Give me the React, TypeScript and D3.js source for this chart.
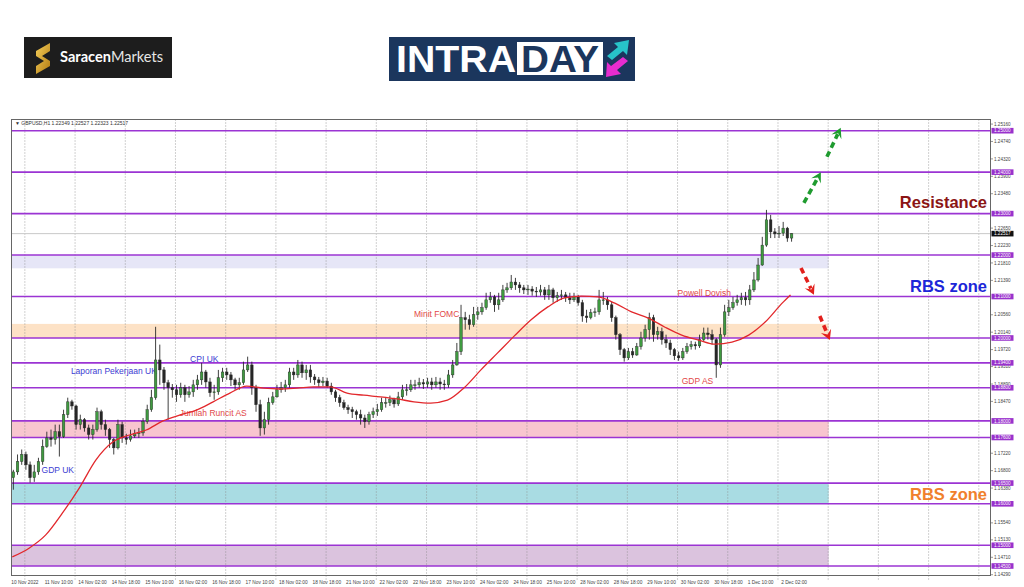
import * as d3 from "d3";

const timeLabels = [
  "10 Nov 2022", "11 Nov 10:00", "14 Nov 02:00", "14 Nov 18:00", "15 Nov 10:00",
  "16 Nov 02:00", "16 Nov 18:00", "17 Nov 10:00", "18 Nov 02:00", "18 Nov 18:00",
  "21 Nov 10:00", "22 Nov 02:00", "22 Nov 18:00", "23 Nov 10:00", "24 Nov 02:00",
  "24 Nov 18:00", "25 Nov 10:00", "28 Nov 02:00", "28 Nov 18:00", "29 Nov 10:00",
  "30 Nov 02:00", "30 Nov 18:00", "1 Dec 10:00", "2 Dec 02:00",
];

const priceTicks = [
  "1.25160", "1.24740", "1.24320", "1.23900", "1.23480", "1.23060", "1.22650",
  "1.22230", "1.21810", "1.21390", "1.20970", "1.20560", "1.20140", "1.19720",
  "1.19310", "1.18890", "1.18470", "1.18050", "1.17640", "1.17220", "1.16800",
  "1.16380", "1.15960", "1.15540", "1.15130", "1.14710", "1.14290",
];

const levels = [1.25, 1.24, 1.23, 1.22, 1.21, 1.2, 1.194, 1.188, 1.18, 1.176, 1.165, 1.16, 1.15, 1.145];

const zoneHigh = [1.22, 1.2034, 1.18, 1.165, 1.15];
const zoneLow = [1.2168, 1.2, 1.176, 1.16, 1.145];

// [open, high, low, close]
const candles: [number, number, number, number][] = [
  [1.1663, 1.1682, 1.1634, 1.1677], [1.1677, 1.1719, 1.167, 1.1702], [1.1702, 1.1731, 1.1694, 1.1719],
  [1.1719, 1.1726, 1.1682, 1.1694], [1.1694, 1.1702, 1.1651, 1.1663], [1.1663, 1.1694, 1.1653, 1.1677],
  [1.1677, 1.1711, 1.167, 1.1702], [1.1702, 1.1755, 1.1694, 1.1738], [1.1738, 1.1774, 1.1735, 1.1759],
  [1.1759, 1.1779, 1.1738, 1.1755], [1.1755, 1.1791, 1.1743, 1.1774], [1.1774, 1.1791, 1.1714, 1.1762],
  [1.1762, 1.1827, 1.1759, 1.1815], [1.1815, 1.1856, 1.1807, 1.1846], [1.1846, 1.1851, 1.1827, 1.1836],
  [1.1836, 1.1839, 1.1779, 1.1791], [1.1791, 1.1815, 1.1779, 1.1803], [1.1803, 1.1807, 1.1774, 1.1783],
  [1.1783, 1.1791, 1.1755, 1.1767], [1.1767, 1.1791, 1.1755, 1.1779], [1.1779, 1.1832, 1.1774, 1.1822],
  [1.1822, 1.1827, 1.1779, 1.1791], [1.1791, 1.1803, 1.1764, 1.1779], [1.1779, 1.1783, 1.1735, 1.1755],
  [1.1755, 1.1759, 1.1719, 1.1735], [1.1735, 1.1803, 1.1731, 1.1791], [1.1791, 1.1798, 1.1747, 1.1759],
  [1.1759, 1.1769, 1.1743, 1.1755], [1.1755, 1.1779, 1.175, 1.1764], [1.1764, 1.1779, 1.1759, 1.1769],
  [1.1769, 1.1783, 1.1759, 1.1771], [1.1771, 1.1807, 1.1764, 1.1798], [1.1798, 1.1839, 1.1793, 1.1827],
  [1.1827, 1.1875, 1.1822, 1.1856], [1.1856, 1.2027, 1.1851, 1.1947], [1.1947, 1.1984, 1.1887, 1.1923],
  [1.1923, 1.193, 1.1875, 1.1892], [1.1892, 1.1899, 1.1803, 1.188], [1.188, 1.1889, 1.1856, 1.1875],
  [1.1875, 1.1887, 1.1846, 1.1863], [1.1863, 1.1892, 1.1856, 1.188], [1.188, 1.1887, 1.1846, 1.1863],
  [1.1863, 1.1884, 1.1856, 1.187], [1.187, 1.1899, 1.1858, 1.1887], [1.1887, 1.1911, 1.1875, 1.1899],
  [1.1899, 1.194, 1.1887, 1.1918], [1.1918, 1.1923, 1.188, 1.1894], [1.1894, 1.1904, 1.1858, 1.1868],
  [1.1868, 1.1887, 1.1851, 1.187], [1.187, 1.1923, 1.1863, 1.1904], [1.1904, 1.1928, 1.1894, 1.1918],
  [1.1918, 1.1928, 1.1899, 1.1911], [1.1911, 1.1918, 1.1884, 1.1899], [1.1899, 1.1904, 1.1875, 1.1887],
  [1.1887, 1.1904, 1.1875, 1.1892], [1.1892, 1.1943, 1.1887, 1.1923], [1.1923, 1.1955, 1.1918, 1.1935],
  [1.1935, 1.1943, 1.1863, 1.188], [1.188, 1.1887, 1.1822, 1.1839], [1.1839, 1.1851, 1.1764, 1.1783],
  [1.1783, 1.1822, 1.1767, 1.1803], [1.1803, 1.1856, 1.1791, 1.1844], [1.1844, 1.187, 1.1839, 1.1858],
  [1.1858, 1.1887, 1.1856, 1.1875], [1.1875, 1.1894, 1.1868, 1.188], [1.188, 1.1899, 1.187, 1.1887],
  [1.1887, 1.1928, 1.188, 1.1918], [1.1918, 1.1928, 1.1899, 1.1911], [1.1911, 1.1947, 1.1904, 1.1935],
  [1.1935, 1.1943, 1.1904, 1.1916], [1.1916, 1.1935, 1.1899, 1.1923], [1.1923, 1.1935, 1.1892, 1.1906],
  [1.1906, 1.1913, 1.1887, 1.1899], [1.1899, 1.1906, 1.1882, 1.1892], [1.1892, 1.1906, 1.1884, 1.1896],
  [1.1896, 1.1904, 1.188, 1.1884], [1.1884, 1.1892, 1.1863, 1.187], [1.187, 1.1875, 1.1846, 1.1856],
  [1.1856, 1.1863, 1.1834, 1.1844], [1.1844, 1.1851, 1.1827, 1.1832], [1.1832, 1.1839, 1.1817, 1.1827],
  [1.1827, 1.1834, 1.1807, 1.1822], [1.1822, 1.1827, 1.1803, 1.1815], [1.1815, 1.1827, 1.1791, 1.1807],
  [1.1807, 1.1815, 1.1783, 1.1798], [1.1798, 1.1822, 1.1791, 1.1815], [1.1815, 1.1832, 1.1807, 1.1822],
  [1.1822, 1.1841, 1.1812, 1.1827], [1.1827, 1.1856, 1.1822, 1.1844], [1.1844, 1.1856, 1.1832, 1.1844],
  [1.1844, 1.1861, 1.1836, 1.1851], [1.1851, 1.1856, 1.1832, 1.1841], [1.1841, 1.187, 1.1836, 1.1858],
  [1.1858, 1.1887, 1.1851, 1.1875], [1.1875, 1.1889, 1.1861, 1.1875], [1.1875, 1.1899, 1.187, 1.1887],
  [1.1887, 1.1899, 1.1875, 1.1887], [1.1887, 1.1904, 1.188, 1.1892], [1.1892, 1.1901, 1.1877, 1.1889],
  [1.1889, 1.1904, 1.188, 1.1894], [1.1894, 1.1904, 1.1875, 1.1887], [1.1887, 1.1906, 1.188, 1.1894],
  [1.1894, 1.1904, 1.1875, 1.1889], [1.1889, 1.1899, 1.1875, 1.1887], [1.1887, 1.1923, 1.188, 1.1911],
  [1.1911, 1.1947, 1.1904, 1.1935], [1.1935, 1.1988, 1.1933, 1.1967], [1.1967, 1.208, 1.1959, 1.2049],
  [1.2049, 1.2063, 1.202, 1.2044], [1.2044, 1.2056, 1.202, 1.2032], [1.2032, 1.2075, 1.2027, 1.2056],
  [1.2056, 1.2075, 1.2044, 1.2063], [1.2063, 1.2085, 1.2056, 1.2073], [1.2073, 1.2109, 1.2068, 1.2092],
  [1.2092, 1.2111, 1.2085, 1.2099], [1.2099, 1.2104, 1.2063, 1.208], [1.208, 1.2109, 1.2068, 1.2092],
  [1.2092, 1.2128, 1.2087, 1.2116], [1.2116, 1.2133, 1.2109, 1.2121], [1.2121, 1.2152, 1.2116, 1.2135],
  [1.2135, 1.2145, 1.2116, 1.2128], [1.2128, 1.2135, 1.2109, 1.2121], [1.2121, 1.2128, 1.2106, 1.2116],
  [1.2116, 1.2128, 1.2104, 1.2118], [1.2118, 1.2125, 1.2102, 1.2113], [1.2113, 1.2123, 1.2099, 1.2111],
  [1.2111, 1.2128, 1.2102, 1.2116], [1.2116, 1.2123, 1.2092, 1.2104], [1.2104, 1.2128, 1.2092, 1.2116],
  [1.2116, 1.2121, 1.2085, 1.2097], [1.2097, 1.2111, 1.2087, 1.2102], [1.2102, 1.2116, 1.2092, 1.2104],
  [1.2104, 1.2111, 1.2087, 1.2097], [1.2097, 1.2109, 1.2082, 1.2092], [1.2092, 1.2109, 1.2087, 1.2099],
  [1.2099, 1.2104, 1.2078, 1.2085], [1.2085, 1.2092, 1.2039, 1.2053], [1.2053, 1.2068, 1.2037, 1.2049],
  [1.2049, 1.207, 1.2045, 1.2061], [1.2061, 1.2073, 1.2051, 1.2063], [1.2063, 1.2116, 1.2056, 1.2092],
  [1.2092, 1.2111, 1.208, 1.2092], [1.2092, 1.2099, 1.2068, 1.208], [1.208, 1.2087, 1.2039, 1.2049],
  [1.2049, 1.2054, 1.1996, 1.2008], [1.2008, 1.2012, 1.1959, 1.1972], [1.1972, 1.1976, 1.1943, 1.1952],
  [1.1952, 1.1976, 1.1947, 1.1967], [1.1967, 1.1976, 1.1952, 1.1959], [1.1959, 1.1988, 1.1957, 1.1979],
  [1.1979, 1.2015, 1.1972, 1.2], [1.2, 1.2032, 1.1991, 1.202], [1.202, 1.2061, 1.1996, 1.2049],
  [1.2049, 1.2056, 1.1991, 1.2008], [1.2008, 1.2027, 1.1996, 1.2015], [1.2015, 1.2025, 1.1984, 1.1996],
  [1.1996, 1.2008, 1.1976, 1.1988], [1.1988, 1.1996, 1.1959, 1.1972], [1.1972, 1.1976, 1.1947, 1.1957],
  [1.1957, 1.1967, 1.1945, 1.1952], [1.1952, 1.1976, 1.1947, 1.1967], [1.1967, 1.1988, 1.1962, 1.1979],
  [1.1979, 1.1993, 1.1972, 1.1984], [1.1984, 1.1991, 1.1972, 1.1981], [1.1981, 1.2008, 1.1976, 1.1996],
  [1.1996, 1.2025, 1.1991, 1.2012], [1.2012, 1.2025, 1.1996, 1.2008], [1.2008, 1.202, 1.1984, 1.1996],
  [1.1996, 1.2, 1.1904, 1.1935], [1.1935, 1.2025, 1.1928, 1.2008], [1.2008, 1.208, 1.2003, 1.2063],
  [1.2063, 1.2092, 1.2053, 1.2073], [1.2073, 1.2099, 1.2068, 1.2085], [1.2085, 1.2104, 1.2078, 1.2092],
  [1.2092, 1.2109, 1.208, 1.2097], [1.2097, 1.2111, 1.2078, 1.2092], [1.2092, 1.2128, 1.208, 1.2116],
  [1.2116, 1.2159, 1.2111, 1.214], [1.214, 1.2193, 1.2136, 1.2176], [1.2176, 1.2244, 1.2174, 1.2224],
  [1.2224, 1.2309, 1.222, 1.2285], [1.2285, 1.2297, 1.2241, 1.2256], [1.2256, 1.2265, 1.2241, 1.2251],
  [1.2251, 1.227, 1.2241, 1.2253], [1.2253, 1.228, 1.2246, 1.2265], [1.2265, 1.2268, 1.2232, 1.2241],
  [1.2241, 1.22527, 1.22323, 1.22517],
];

// moving average, sampled every 8 hourly bars
const maBars = [
  0, 8, 16, 24, 32, 40, 48, 56, 64, 72, 80, 88, 96, 104, 112, 120, 128, 136, 144, 152, 160, 168, 176, 184,
  192, 200, 208, 216, 224, 232, 240, 248, 256, 264, 272, 280, 288, 296, 304, 312, 320, 328, 336, 344, 352,
  360, 368, 372,
];
const maValues = [
  1.1472, 1.1493, 1.1525, 1.1578, 1.1638, 1.1706, 1.1749, 1.1766, 1.1778, 1.18, 1.1814, 1.1826, 1.1846,
  1.1867, 1.1884, 1.1879, 1.1877, 1.1879, 1.1882, 1.1882, 1.1867, 1.1862, 1.1858, 1.1853, 1.1846, 1.1843,
  1.185, 1.188, 1.1923, 1.1964, 1.2005, 1.2044, 1.2075, 1.2097, 1.2101, 1.2099, 1.2084, 1.2063, 1.2048,
  1.2026, 1.2007, 1.1995, 1.1985, 1.199, 1.2007, 1.2039, 1.2084, 1.2104,
];

const events = [
  { label: "GDP UK", bar: 14, price: 1.1674, side: "uk" },
  { label: "Laporan Pekerjaan UK", bar: 28, price: 1.1913, side: "uk" },
  { label: "CPI UK", bar: 85, price: 1.1942, side: "uk" },
  { label: "Jumlah Runcit AS", bar: 80, price: 1.1812, side: "us" },
  { label: "Minit FOMC", bar: 192, price: 1.2051, side: "us" },
  { label: "Powell Dovish", bar: 318, price: 1.2101, side: "us" },
  { label: "GDP AS", bar: 320, price: 1.1889, side: "us" },
];

// projected moves: [fromBar, fromPrice, toBar, toPrice]
const upArrows = [
  [378.4, 1.2326, 386.5, 1.24],
  [389.4, 1.2437, 396, 1.2507],
];
const downArrows = [
  [377, 1.2169, 383.2, 1.2104],
  [386, 1.2053, 390.8, 1.1995],
];

const lastPrice = 1.22517;
const header = "GBPUSD,H1  1.22349 1.22527 1.22323 1.22517";

const zoneColors = ["#e6e6f7", "#fde2c6", "#f8c5cf", "#a9dce3", "#dbc3de"];
const font = "'Liberation Sans', Arial, sans-serif";

const x = d3.scaleLinear().domain([0, 466]).range([12.3, 12.3 + 466 * 2.092]);
const y = d3.scaleLinear().domain([1.145, 1.25]).range([566, 130.7]);

const frame = { left: 11.5, right: 990.5, top: 119.5, bottom: 575.5 };

function Arrow({ a, color }: { a: number[]; color: string }) {
  const x0 = x(a[0]), y0 = y(a[1]), x1 = x(a[2]), y1 = y(a[3]);
  const len = Math.hypot(x1 - x0, y1 - y0);
  const ux = (x1 - x0) / len, uy = (y1 - y0) / len;
  const nx = -uy, ny = ux;
  const head = [
    [x1, y1],
    [x1 - 10 * ux + 5.5 * nx, y1 - 10 * uy + 5.5 * ny],
    [x1 - 6 * ux, y1 - 6 * uy],
    [x1 - 10 * ux - 5.5 * nx, y1 - 10 * uy - 5.5 * ny],
  ];
  return (
    <g>
      <line x1={x0} y1={y0} x2={x1 - 7 * ux} y2={y1 - 7 * uy} stroke={color} strokeWidth={3.6} strokeDasharray="6 4" />
      <polygon points={head.map((p) => p.join(",")).join(" ")} fill={color} />
    </g>
  );
}

export default function App() {
  const grid = d3.range(6, 466, 24);
  const maLine = d3
    .line<number>()
    .x((_, i) => x(maBars[i]))
    .y((d) => y(d))
    .curve(d3.curveMonotoneX);
  // tick labels that sit under a level box are not shown
  const visibleTicks = priceTicks.filter((t) => levels.every((l) => Math.abs(y(+t) - y(l)) > 3.5));

  return (
    <div style={{ position: "absolute", left: 0, top: 0 }}>
      <svg width={1024} height={587} style={{ display: "block", background: "#fff" }}>
        <defs>
          <linearGradient id="gold" x1="0" y1="0" x2="1" y2="1">
            <stop offset="0" stopColor="#f6cf5a" />
            <stop offset="1" stopColor="#b07a12" />
          </linearGradient>
        </defs>

        {/* logos */}
        <rect x={24} y={37} width={148} height={41} fill="#1d1d1d" />
        <path d="M36,51 L50,43 L50,51 L42,56 L50,61 L50,66 L36,74 L36,66 L44,61 L36,56 Z" fill="url(#gold)" />
        <text x={60} y={62} fontFamily="Lato, sans-serif" fontSize={14.5} fill="#fff" textLength={103} lengthAdjust="spacingAndGlyphs">
          <tspan fontWeight="bold">Saracen</tspan>
          <tspan fill="#e6e6e6">Markets</tspan>
        </text>

        <rect x={389} y={37} width={246} height={44} fill="#1b365d" />
        <text x={396} y={72} fontFamily={font} fontWeight="bold" fontSize={37} fill="#fff" textLength={120} lengthAdjust="spacingAndGlyphs">
          INTRA
        </text>
        <rect x={517} y={42} width={86} height={33} fill="#fff" />
        <text x={521} y={72} fontFamily={font} fontWeight="bold" fontSize={37} fill="#1b365d" textLength={78} lengthAdjust="spacingAndGlyphs">
          DAY
        </text>
        <polygon points="607,56 618,47 614,43 629,40 627,55 623,51 612,60" fill="#27c3c9" />
        <polygon points="628,61 617,70 621,74 606,77 607,62 611,66 623,57" fill="#e62ccf" />

        {/* zones */}
        {zoneHigh.map((hi, i) => (
          <rect
            key={`z${i}`}
            x={frame.left + 0.5}
            y={y(hi)}
            width={x(390) - frame.left}
            height={y(zoneLow[i]) - y(hi)}
            fill={zoneColors[i]}
          />
        ))}

        {/* grid */}
        {grid.map((g) => (
          <line key={`g${g}`} x1={x(g)} x2={x(g)} y1={frame.top} y2={frame.bottom + 4} stroke="#8c8c8c" strokeWidth={0.8} strokeDasharray="1 2" />
        ))}

        {/* levels */}
        {levels.map((l) => (
          <line key={`l${l}`} x1={frame.left} x2={frame.right} y1={y(l)} y2={y(l)} stroke="#9b34d3" strokeWidth={1.6} />
        ))}
        <line x1={frame.left} x2={frame.right} y1={y(lastPrice)} y2={y(lastPrice)} stroke="#c8c8c8" strokeWidth={1} />

        {/* events */}
        {events.map((e) => (
          <text key={e.label} x={x(e.bar)} y={y(e.price)} fontFamily={font} fontSize={8.5} fill={e.side === "uk" ? "#3c3cd2" : "#e24848"}>
            {e.label}
          </text>
        ))}

        {/* candles */}
        {candles.map(([o, h, l, c], j) => {
          const cx = x(2 * j + 0.5);
          const up = c >= o;
          const top = y(Math.max(o, c));
          const bh = Math.max(0.8, Math.abs(y(o) - y(c)));
          return (
            <g key={`c${j}`}>
              <line x1={cx} x2={cx} y1={y(h)} y2={y(l)} stroke="#2a2a2a" strokeWidth={0.9} />
              <rect x={cx - 1.3} y={top} width={2.6} height={bh} fill={up ? "#3f9a40" : "#262626"} stroke="#262626" strokeWidth={0.4} />
            </g>
          );
        })}

        {/* moving average */}
        <path d={maLine(maValues) as string} fill="none" stroke="#e2282c" strokeWidth={1.3} />

        {/* arrows */}
        {upArrows.map((a, i) => (
          <Arrow key={`u${i}`} a={a} color="#1f9b2f" />
        ))}
        {downArrows.map((a, i) => (
          <Arrow key={`d${i}`} a={a} color="#e2201c" />
        ))}

        {/* zone captions */}
        <text x={987} y={y(1.2313)} textAnchor="end" fontFamily={font} fontWeight="bold" fontSize={16.5} fill="#8b1515">
          Resistance
        </text>
        <text x={987} y={y(1.2111)} textAnchor="end" fontFamily={font} fontWeight="bold" fontSize={16.5} fill="#1c26d8">
          RBS zone
        </text>
        <text x={987} y={y(1.1609)} textAnchor="end" fontFamily={font} fontWeight="bold" fontSize={16.5} fill="#f0802c">
          RBS zone
        </text>

        {/* frame */}
        <rect x={frame.left} y={frame.top} width={frame.right - frame.left} height={frame.bottom - frame.top} fill="none" stroke="#666" strokeWidth={1} />
        <text x={15} y={124.8} fontFamily={font} fontSize={5} fill="#333">
          {"\u25BC " + header}
        </text>

        {/* price axis */}
        {visibleTicks.map((t) => (
          <g key={t}>
            <line x1={frame.right} x2={frame.right + 2.5} y1={y(+t)} y2={y(+t)} stroke="#555" strokeWidth={0.6} />
            <text x={994} y={y(+t)} dy="0.35em" fontFamily={font} fontSize={4.6} fill="#444">
              {t}
            </text>
          </g>
        ))}
        {levels.map((l) => (
          <g key={`b${l}`}>
            <rect x={991.5} y={y(l) - 2.8} width={22} height={5.6} fill="#9932cc" />
            <text x={994} y={y(l)} dy="0.35em" fontFamily={font} fontSize={4.6} fill="#fff">
              {l.toFixed(5)}
            </text>
          </g>
        ))}
        <rect x={991.5} y={y(lastPrice) - 2.8} width={22} height={5.6} fill="#111" />
        <text x={994} y={y(lastPrice)} dy="0.35em" fontFamily={font} fontSize={4.6} fill="#fff">
          {lastPrice.toFixed(5)}
        </text>

        {/* time axis */}
        {timeLabels.map((t, k) => (
          <text key={t} x={x(16 * k) - 1} y={584} fontFamily={font} fontSize={4.8} fill="#444">
            {t}
          </text>
        ))}
      </svg>
    </div>
  );
}
